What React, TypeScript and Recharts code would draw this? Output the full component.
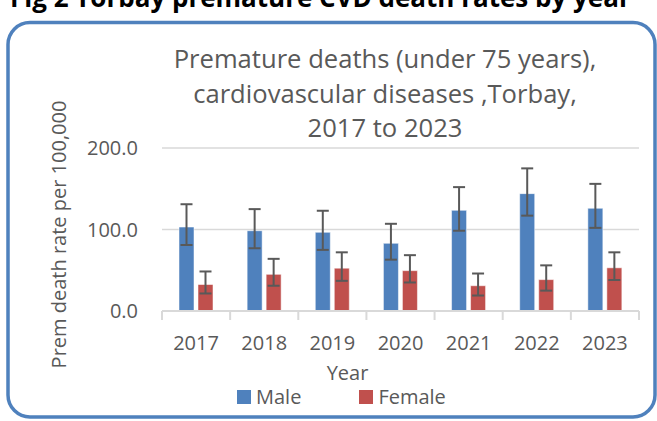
import { BarChart, Bar, XAxis, YAxis, CartesianGrid, ErrorBar, Legend } from 'recharts';

const years = ['2017', '2018', '2019', '2020', '2021', '2022', '2023'];

// rates per 100,000 with lower / upper confidence limits
const maleRate = [103, 98.5, 96.5, 83, 123.5, 144, 126];
const maleLower = [81, 77, 75, 63, 98.5, 117, 102];
const maleUpper = [131, 125, 123, 107, 152, 175, 156];

const femaleRate = [32.5, 45, 52.5, 49.5, 31, 38.5, 53];
const femaleLower = [21.5, 31, 37, 35, 19, 25, 38];
const femaleUpper = [48.5, 64, 72, 68.5, 46, 56, 72];

const yTicks = [0, 100, 200];
const seriesNames = ['Male', 'Female'];

const figTitle = 'Fig 2 Torbay premature CVD death rates by year';
const chartTitle = [
  'Premature deaths (under 75 years),',
  'cardiovascular diseases ,Torbay,',
  '2017 to 2023',
];

const data = years.map((year, i) => ({
  year,
  male: maleRate[i],
  maleErr: [maleRate[i] - maleLower[i], maleUpper[i] - maleRate[i]],
  female: femaleRate[i],
  femaleErr: [femaleRate[i] - femaleLower[i], femaleUpper[i] - femaleRate[i]],
}));

const FONT = '"Open Sans", "Noto Sans", sans-serif';
const TEXT = '#595959';
const GRID = '#d9d9d9';

const YearTick = (props: any) => {
  const { x, y, payload, index, visibleTicksCount, width } = props;
  const half = payload.offset ?? width / visibleTicksCount / 2;
  const last = index === visibleTicksCount - 1;
  return (
    <g>
      <line x1={x - half} x2={x - half} y1={y} y2={y + 9} stroke={GRID} strokeWidth={2} />
      {last && <line x1={x + half} x2={x + half} y1={y} y2={y + 9} stroke={GRID} strokeWidth={2} />}
      <text x={x} y={y + 39} textAnchor="middle" fill={TEXT} fontSize={20}>
        {payload.value}
      </text>
    </g>
  );
};

const renderLegend = (props: any) => {
  const items = [...props.payload].sort(
    (a: any, b: any) => seriesNames.indexOf(a.value) - seriesNames.indexOf(b.value)
  );
  return (
    <div style={{ display: 'flex', alignItems: 'center', fontFamily: FONT }}>
      {items.map((entry: any, i: number) => (
        <div key={entry.value} style={{ display: 'flex', alignItems: 'center', marginRight: i === 0 ? 58 : 0 }}>
          <span style={{ width: 14, height: 14, background: entry.color, marginRight: 5, display: 'inline-block' }} />
          <span style={{ fontSize: 20, lineHeight: '21px', color: TEXT }}>{entry.value}</span>
        </div>
      ))}
    </div>
  );
};

export default function App() {
  return (
    <div style={{ position: 'absolute', left: 0, top: 0, width: 657, height: 421, background: '#fff', fontFamily: FONT }}>
      <BarChart
        width={657}
        height={421}
        data={data}
        margin={{ top: 148, right: 18, left: 0, bottom: 0 }}
        barCategoryGap="25%"
        barGap={4}
      >
        <CartesianGrid vertical={false} stroke={GRID} strokeWidth={1.4} />
        <XAxis
          dataKey="year"
          height={110}
          tickSize={0}
          tickMargin={0}
          axisLine={{ stroke: GRID, strokeWidth: 2 }}
          tickLine={false}
          tick={<YearTick />}
          interval={0}
          label={({ viewBox }: any) => (
            <text
              x={viewBox.x + viewBox.width / 2 - 53}
              y={viewBox.y + 69}
              textAnchor="middle"
              fill={TEXT}
              fontSize={20}
            >
              Year
            </text>
          )}
        />
        <YAxis
          domain={[0, 200]}
          ticks={yTicks}
          width={162}
          axisLine={false}
          tickLine={false}
          tickSize={0}
          tickMargin={24}
          tick={{ fill: TEXT, fontSize: 20 }}
          tickFormatter={(v: number) => v.toFixed(1)}
          label={({ viewBox }: any) => {
            const cx = viewBox.x + 58;
            const cy = viewBox.y + viewBox.height / 2 + 5;
            return (
              <text
                x={cx}
                y={cy}
                transform={`rotate(-90, ${cx}, ${cy})`}
                textAnchor="middle"
                dominantBaseline="central"
                fill={TEXT}
                fontSize={20}
              >
                Prem death rate per 100,000
              </text>
            );
          }}
        />
        <Legend
          layout="horizontal"
          verticalAlign="middle"
          align="center"
          wrapperStyle={{ top: 386, left: 237, width: 300 }}
          content={renderLegend}
        />
        <Bar dataKey="male" name="Male" fill="#4f81bd" stroke="#ffffff" strokeOpacity={0.5} barSize={15} isAnimationActive={false}>
          <ErrorBar dataKey="maleErr" width={6} stroke="#595959" strokeWidth={2} isAnimationActive={false} />
        </Bar>
        <Bar dataKey="female" name="Female" fill="#c0504d" stroke="#ffffff" strokeOpacity={0.5} barSize={15} isAnimationActive={false}>
          <ErrorBar dataKey="femaleErr" width={6} stroke="#595959" strokeWidth={2} isAnimationActive={false} />
        </Bar>
      </BarChart>
      <svg
        width={657}
        height={421}
        style={{ position: 'absolute', left: 0, top: 0, pointerEvents: 'none' }}
      >
        <text x={10} y={7} fontSize={26} fontWeight="bold" fill="#000">
          {figTitle}
        </text>
        <rect x={8} y={22.5} width={647} height={394.5} rx={22} fill="none" stroke="#4f81bd" strokeWidth={3.5} />
        {chartTitle.map((line, i) => (
          <text key={line} x={385} y={68 + i * 34.5} textAnchor="middle" fontSize={25.6} fill={TEXT}>
            {line}
          </text>
        ))}
      </svg>
    </div>
  );
}
